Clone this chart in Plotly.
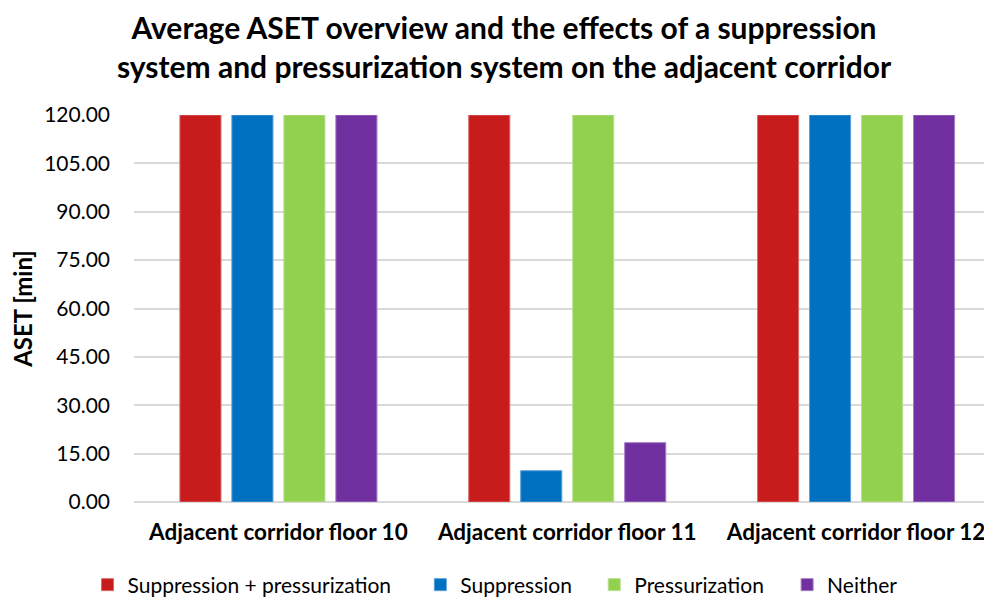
import plotly.graph_objects as go

categories = ["Adjacent corridor floor 10", "Adjacent corridor floor 11", "Adjacent corridor floor 12"]
series_names = ["Suppression + pressurization", "Suppression", "Pressurization", "Neither"]
supp_press = [120.0, 120.0, 120.0]
suppression = [120.0, 9.7, 120.0]
pressurization = [120.0, 120.0, 120.0]
neither = [120.0, 18.4, 120.0]
series_values = [supp_press, suppression, pressurization, neither]
colors = ["#C81B1B", "#0070C0", "#92D050", "#7030A0"]
edge_colors = ["#D86A6A", "#5A9FD6", "#B8E08C", "#A47CC4"]
tick_vals = [0, 15, 30, 45, 60, 75, 90, 105, 120]
tick_text = ["0.00", "15.00", "30.00", "45.00", "60.00", "75.00", "90.00", "105.00", "120.00"]

FONT = "Lato, Carlito, Calibri, sans-serif"

# page body has an 8px margin, so the figure is drawn 8px in from the top-left
OFF = 8
W, H = 992 - OFF, 599 - OFF
L, R, T = 133.5 - OFF, 0, 115 - OFF
B = H - (502 - OFF)
pw = W - L - R
ph = H - T - B

legend_px = [79, 412, 586, 779]  # legend box left edges (figure px)
legend_names = ["legend", "legend2", "legend3", "legend4"]

fig = go.Figure()
for i, (name, vals) in enumerate(zip(series_names, series_values)):
    fig.add_trace(go.Bar(
        x=categories, y=vals, name=name,
        marker=dict(color=colors[i], line=dict(color=edge_colors[i], width=1)),
        legend=legend_names[i],
    ))

layout_legends = {}
for i, ln in enumerate(legend_names):
    layout_legends[ln] = dict(
        x=(legend_px[i] - L) / pw, xanchor="left",
        y=(ph - (585 - OFF - T)) / ph, yanchor="middle",
        orientation="h", font=dict(family=FONT, size=21, color="#000000"),
        bgcolor="rgba(0,0,0,0)", borderwidth=0,
    )

fig.update_layout(
    width=W, height=H,
    margin=dict(l=L, r=R, t=T, b=B, pad=0, autoexpand=False),
    paper_bgcolor="white", plot_bgcolor="white",
    title=dict(
        text="<b>Average ASET overview and the effects of a suppression<br>system and pressurization system on the adjacent corridor</b>",
        x=(504 - OFF) / W, xanchor="center", xref="container",
        y=1 - (39 - 8) / H, yanchor="middle", yref="container",
        font=dict(family=FONT, size=30, color="#000000"),
    ),
    barmode="group", bargap=0.28, bargroupgap=0.21,
    showlegend=True,
    font=dict(family=FONT, color="#000000"),
    xaxis=dict(
        type="category", range=[-0.5, -0.5 + pw / 289.0],
        showgrid=False, showline=False, zeroline=False, automargin=False,
        tickfont=dict(family=FONT, size=22.5, color="#000000", weight="bold"),
        ticks="", ticklabelstandoff=14,
    ),
    yaxis=dict(
        range=[0, 120], tickvals=tick_vals, ticktext=tick_text, automargin=False,
        showgrid=True, gridcolor="#D9D9D9", gridwidth=1.5,
        zeroline=True, zerolinecolor="#D9D9D9", zerolinewidth=1.5,
        showline=False, ticks="", ticklabelstandoff=23,
        tickfont=dict(family=FONT, size=21, color="#000000"),
        title=dict(text="<b>ASET [min]</b>", font=dict(family=FONT, size=24, color="#000000"), standoff=12),
    ),
    **layout_legends,
)

fig.write_html("out.html")
